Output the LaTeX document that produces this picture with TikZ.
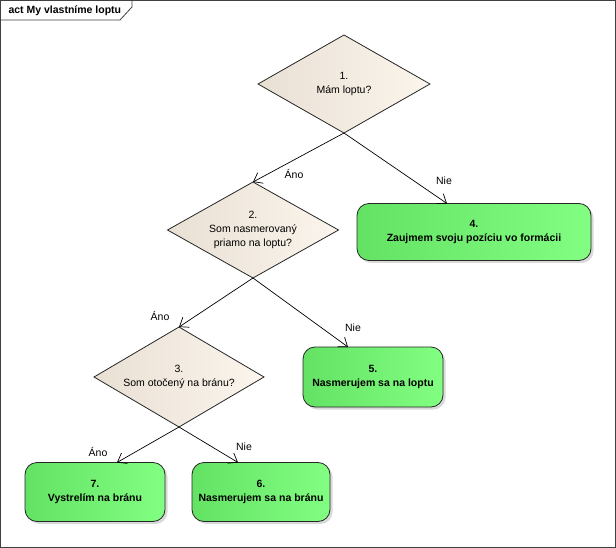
\documentclass[tikz,border=0pt]{standalone}
\usepackage{fontspec}
\setmainfont{Liberation Sans}
\usetikzlibrary{arrows.meta, positioning, shapes.geometric, shadows}
\definecolor{decleft}{RGB}{233,224,212}
\definecolor{decright}{RGB}{251,245,237}
\definecolor{actleft}{RGB}{100,226,100}
\definecolor{actright}{RGB}{130,255,130}

\begin{document}
\begin{tikzpicture}[
        x=1pt, y=-1pt,
        font=\fontsize{10.5}{14}\selectfont,
        decision/.style={diamond, aspect=1.75, draw=black!85, line width=0.8pt, left color=decleft, right color=decright, minimum width=172pt, minimum height=98pt, inner sep=0pt, outer sep=0pt, align=center},
        action/.style={rectangle, rounded corners=12pt, draw=black!85, line width=0.8pt, left color=actleft, right color=actright, inner sep=0pt, outer sep=0pt, align=center, font=\fontsize{10.5}{14}\selectfont\bfseries, drop shadow={shadow xshift=2.5pt, shadow yshift=-2.5pt, opacity=0.3}, execute at end node={\\[3pt]\mbox{}}},
        arrow/.style={-{Straight Barb[length=8pt, width=12pt]}, line width=0.7pt},
        lbl/.style={inner sep=0pt}
    ]
    \useasboundingbox (0,0) rectangle (616,548);

    % Frame
    \draw[black!75, line width=0.8pt] (0.5,0.5) rectangle (615.5,547.5);
    \draw[black!75, line width=0.8pt] (0.5,20) -- (120,20) -- (132,7) -- (132,0.5);
    \node[anchor=west, font=\fontsize{10.5}{14}\selectfont\bfseries] (title) at (5,11) {act My vlastníme loptu};

    % Nodes
    \node[decision] (d1) at (344,84) {1.\\Mám loptu?};
    \node[decision, minimum width=171pt, minimum height=96pt] (d2) at (253,230) {2.\\Som nasmerovaný\\priamo na loptu?};
    \node[decision, minimum width=170pt, minimum height=100pt] (d3) at (179,377) {3.\\Som otočený na bránu?};
    \node[action, minimum width=234pt, minimum height=57pt] (a4) at (474,232) {4.\\Zaujmem svoju pozíciu vo formácii};
    \node[action, minimum width=140pt, minimum height=60pt, right=39pt of d3] (a5) {5.\\Nasmerujem sa na loptu};
    \node[action, minimum width=140pt, minimum height=59pt] (a7) at (95,492) {7.\\Vystrelím na bránu};
    \node[action, minimum width=138pt, minimum height=59pt, right=27pt of a7] (a6) {6.\\Nasmerujem sa na bránu};

    % Labels
    \node[lbl] (ano1) at (294,174) {Áno};
    \node[lbl] (nie1) at (444,181) {Nie};
    \node[lbl] (ano2) at (160,316) {Áno};
    \node[lbl] (nie2) at (353,328) {Nie};
    \node[lbl] (ano3) at (98,452) {Áno};
    \node[lbl] (nie3) at (244,447) {Nie};

    % Arrows
    \draw[arrow] (d1.south) -- (d2.north);
    \draw[arrow] (d1.south) -- ([xshift=-27pt]a4.north);
    \draw[arrow] (d2.south) -- (d3.north);
    \draw[arrow] (d2.south) -- ([xshift=-25pt]a5.north);
    \draw[arrow] (d3.south) -- ([xshift=22pt]a7.north);
    \draw[arrow] (d3.south) -- ([xshift=-23pt]a6.north);

\end{tikzpicture}
\end{document}
